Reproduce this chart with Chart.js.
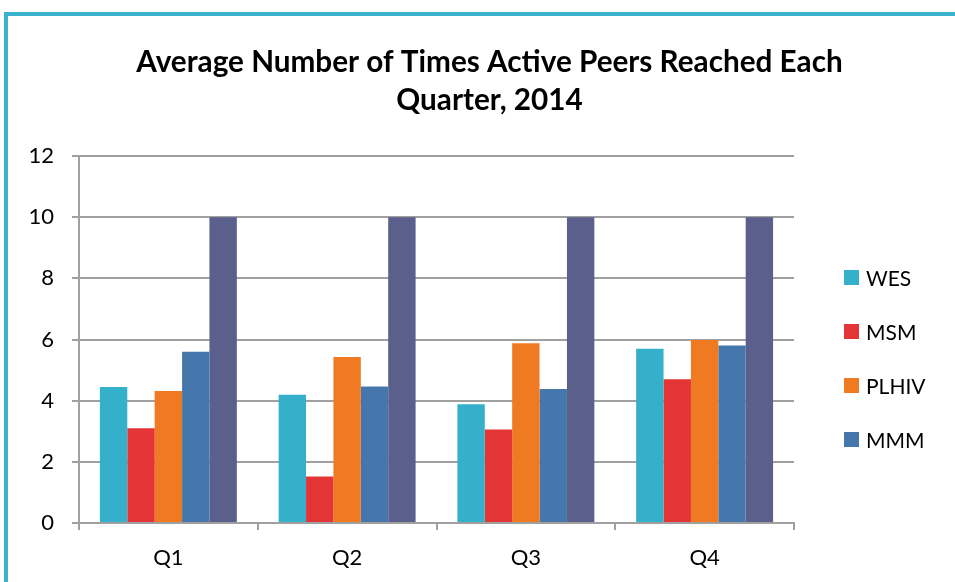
<!DOCTYPE html>
<html>
<head>
<meta charset="utf-8">
<script src="https://cdn.jsdelivr.net/npm/chart.js@4"></script>
<style>
    html, body { margin: 0; padding: 0; background: #fff; overflow: hidden; }
    .frame {
        position: absolute; left: 4px; top: 12px; width: 1000px; height: 620px;
        border-left: 4px solid #3bb3cf; border-top: 4px solid #3bb3cf;
    }
    #wrap { position: absolute; left: 0; top: 0; width: 955px; height: 582px; }
    .legend { position: absolute; left: 844px; top: 250px; font-family: Lato, "Open Sans", sans-serif; font-size: 21px; color: #000; }
    .legend-item { display: flex; align-items: center; height: 54px; }
    .legend-dot { width: 15px; height: 15px; margin-right: 7px; }
</style>
</head>
<body>
<div class="frame"></div>
<div id="wrap"><canvas id="chart" width="955" height="582"></canvas></div>
<div class="legend" id="legend"></div>
<script>
    // ── Data ───────────────────────────────────
    const quarters = ['Q1', 'Q2', 'Q3', 'Q4'];
    const wes   = [4.45, 4.19, 3.88, 5.70];
    const msm   = [3.10, 1.52, 3.06, 4.70];
    const plhiv = [4.32, 5.43, 5.88, 5.98];
    const mmm   = [5.60, 4.46, 4.38, 5.80];
    const other = [10, 10, 10, 10];
    const seriesNames  = ['WES', 'MSM', 'PLHIV', 'MMM', ''];
    const seriesColors = ['#35b0cb', '#e33436', '#f07a22', '#4577ac', '#5a5f8b'];
    const yTicks = [0, 2, 4, 6, 8, 10, 12];

    const seriesValues = [wes, msm, plhiv, mmm, other];
    const font = 'Lato, "Open Sans", sans-serif';
    const gridColor = '#a0a0a0';

    // ── Chart ──────────────────────────────────
    const ctx = document.getElementById('chart').getContext('2d');
    new Chart(ctx, {
        type: 'bar',
        data: {
            labels: quarters,
            datasets: seriesValues.map((vals, i) => ({
                label: seriesNames[i],
                data: vals,
                backgroundColor: seriesColors[i],
                borderWidth: 0,
                categoryPercentage: 0.766,
                barPercentage: 1
            }))
        },
        options: {
            responsive: false,
            animation: false,
            layout: { padding: { left: 24, right: 0, top: 0, bottom: 0 } },
            plugins: {
                legend: { display: false },
                tooltip: { enabled: false },
                title: {
                    display: true,
                    text: ['Average Number of Times Active Peers Reached Each', 'Quarter, 2014'],
                    color: '#000',
                    font: { family: font, size: 29.7, weight: 'bold', lineHeight: 38 / 29.7 },
                    padding: { top: 43, bottom: 37 }
                }
            },
            scales: {
                y: {
                    min: 0, max: 12,
                    afterFit: s => { s.width = 55; },
                    afterBuildTicks: s => { s.ticks = yTicks.map(v => ({ value: v })); },
                    ticks: { color: '#000', font: { family: font, size: 22 }, padding: 18 },
                    grid: { color: gridColor, lineWidth: 2, tickLength: 7 },
                    border: { color: gridColor, width: 2 }
                },
                // empty right-hand box that keeps room for the legend
                room: {
                    position: 'right',
                    afterFit: s => { s.width = 161; },
                    ticks: { display: false },
                    grid: { display: false, drawTicks: false },
                    border: { display: false }
                },
                x: {
                    afterFit: s => { s.height = 59; },
                    ticks: { color: '#000', font: { family: font, size: 22 }, padding: 15 },
                    grid: { drawOnChartArea: false, color: gridColor, lineWidth: 2, tickLength: 7 },
                    border: { color: gridColor, width: 2 }
                }
            }
        }
    });

    // ── Legend ─────────────────────────────────
    document.getElementById('legend').innerHTML = seriesNames
        .map((name, i) => name ? `
            <div class="legend-item">
                <div class="legend-dot" style="background:${seriesColors[i]}"></div>${name}
            </div>` : '')
        .join('');
</script>
</body>
</html>
